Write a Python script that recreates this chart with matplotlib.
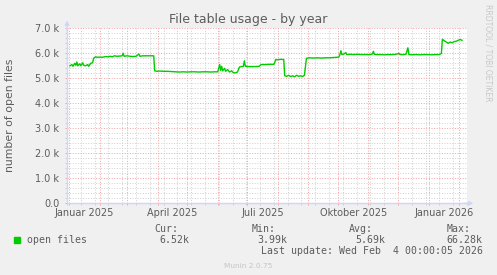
import matplotlib
matplotlib.use('Agg')
import matplotlib.pyplot as plt
import numpy as np
from matplotlib.patches import Rectangle

# day offsets from 2025-01-01 and open files (thousands)
days = [1, 3, 4, 6, 7, 8, 9, 11, 12, 14, 15, 17, 19, 20, 22, 24, 25, 27, 29, 32,
        34, 37, 39, 42, 44, 46, 49, 52, 54, 55, 56, 59, 62, 65, 68, 71, 72, 75, 78, 81,
        84, 86, 87, 89, 92, 96, 100, 104, 108, 112, 116, 120, 124, 128, 132, 136, 140, 144, 148, 151,
        153, 154, 155, 156, 158, 159, 161, 163, 165, 167, 169, 171, 173, 175, 177, 178, 179, 182, 186, 190,
        193, 195, 199, 204, 208, 210, 212, 215, 218, 219, 221, 223, 225, 227, 229, 231, 233, 235, 237, 239,
        241, 244, 248, 252, 256, 260, 264, 268, 272, 274, 275, 276, 277, 279, 281, 282, 285, 289, 293, 297,
        301, 305, 308, 309, 310, 312, 316, 320, 324, 328, 332, 335, 336, 339, 342, 344, 345, 348, 352, 356,
        360, 364, 368, 372, 376, 378, 379, 381, 383, 385, 387, 389, 391, 393, 395, 397, 399]
open_files_k = [5.50, 5.55, 5.48, 5.60, 5.52, 5.65, 5.50, 5.58, 5.50, 5.62, 5.52, 5.50, 5.55, 5.48, 5.60, 5.62, 5.80, 5.86, 5.84, 5.85,
                5.84, 5.87, 5.86, 5.88, 5.86, 5.90, 5.88, 5.89, 5.90, 6.00, 5.88, 5.90, 5.88, 5.87, 5.88, 5.97, 5.88, 5.90, 5.90, 5.90,
                5.90, 5.90, 5.30, 5.28, 5.29, 5.28, 5.28, 5.27, 5.26, 5.25, 5.26, 5.25, 5.26, 5.26, 5.25, 5.26, 5.26, 5.25, 5.26, 5.26,
                5.55, 5.32, 5.48, 5.30, 5.40, 5.28, 5.35, 5.25, 5.30, 5.22, 5.22, 5.25, 5.45, 5.47, 5.48, 5.70, 5.48, 5.47, 5.47, 5.47,
                5.48, 5.55, 5.55, 5.56, 5.56, 5.75, 5.74, 5.76, 5.75, 5.10, 5.08, 5.12, 5.07, 5.10, 5.06, 5.12, 5.08, 5.10, 5.07, 5.12,
                5.80, 5.82, 5.81, 5.82, 5.81, 5.82, 5.82, 5.83, 5.84, 5.85, 5.95, 6.10, 5.95, 5.97, 6.03, 5.95, 5.96, 5.95, 5.96, 5.95,
                5.95, 5.95, 5.97, 6.08, 5.96, 5.95, 5.95, 5.94, 5.95, 5.95, 5.96, 6.00, 5.95, 5.95, 5.96, 6.22, 5.95, 5.94, 5.95, 5.94,
                5.95, 5.95, 5.94, 5.95, 5.95, 6.00, 6.56, 6.50, 6.45, 6.40, 6.45, 6.42, 6.47, 6.48, 6.52, 6.55, 6.52]

label_months = ['2025-01', '2025-04', '2025-07', '2025-10', '2026-01']
label_names = ['Januar 2025', 'April 2025', 'Juli 2025', 'Oktober 2025', 'Januar 2026']
ytick_labels = ['0.0', '1.0 k', '2.0 k', '3.0 k', '4.0 k', '5.0 k', '6.0 k', '7.0 k']

legend_heads = ['Cur:', 'Min:', 'Avg:', 'Max:']
legend_vals = ['6.52k', '3.99k', '5.69k', '66.28k']
last_update = 'Last update: Wed Feb  4 00:00:05 2026'

BACK = '#f0f0f0'
FONT = '#5c5c5c'
AXIS = '#cfd6f8'
GREEN = '#00cc00'
MGRID = '#f2a6a6'
GRID = '#d2d2d2'
W, H = 497, 275

t0 = np.datetime64('2025-01-01')

fig = plt.figure(figsize=(W / 100, H / 100), dpi=100, facecolor=BACK)
ax = fig.add_axes([67 / W, 1 - 203.3 / H, 400 / W, 175 / H])
ax.set_facecolor('white')

ax.plot(days, np.array(open_files_k) * 1000, color=GREEN, lw=1.0, zorder=3)
ax.set_xlim(1, 401)
ax.set_ylim(0, 7000)

month_starts = np.arange('2025-01', '2026-03', dtype='datetime64[M]').astype('datetime64[D]')
ax.set_xticks((month_starts - t0).astype(int))
two_weeks = np.arange(np.datetime64('2024-12-30'), np.datetime64('2026-02-10'), 14)
ax.set_xticks((two_weeks - t0).astype(int), minor=True)
ax.set_xticklabels([])
ax.set_yticks(np.arange(0, 7001, 1000))
ax.set_yticks(np.arange(0, 7001, 200), minor=True)
ax.set_yticklabels(ytick_labels)

ax.grid(which='major', color=MGRID, ls=(0, (1, 1.6)), lw=0.72)
ax.grid(which='minor', color=GRID, ls=(0, (1, 1.6)), lw=0.72)
ax.set_axisbelow(True)
ax.tick_params(which='major', length=1.5, width=0.72, color=MGRID,
               labelsize=7, labelcolor=FONT, pad=4)
ax.tick_params(which='minor', length=1.2, width=0.72, color=GRID)

for s in ('top', 'right'):
    ax.spines[s].set_visible(False)
for s in ('left', 'bottom'):
    ax.spines[s].set_color(AXIS)
    ax.spines[s].set_linewidth(1)

arrow = dict(arrowstyle='-|>', color=AXIS, lw=1, mutation_scale=6, shrinkA=0, shrinkB=0)
ax.annotate('', xy=(0, 1.045), xytext=(0, 0.99), xycoords='axes fraction', arrowprops=arrow)
ax.annotate('', xy=(1.016, 0), xytext=(0.99, 0), xycoords='axes fraction', arrowprops=arrow)

for m, name in zip(label_months, label_names):
    start = np.datetime64(m, 'D')
    end = (np.datetime64(m, 'M') + 1).astype('datetime64[D]')
    mid = (start - t0).astype(int) + (end - start).astype(int) / 2
    ax.text(mid, -12.2 / 175, name, transform=ax.get_xaxis_transform(),
            ha='center', va='baseline', size=7, color=FONT)

fig.text(0.5, 1 - 23.5 / H, 'File table usage - by year', ha='center', va='baseline',
         size=9, color=FONT)
fig.text(10 / W, 1 - 115.5 / H, 'number of open files', rotation=90,
         ha='center', va='center', size=7.8, color=FONT)
fig.text(488 / W, 1 - 53 / H, 'RRDTOOL / TOBI OETIKER', rotation=270,
         ha='center', va='center', size=5.5, color='#c8c8c8')

mono = dict(family='DejaVu Sans Mono', size=7.1, color=FONT, va='baseline')
fig.add_artist(Rectangle((14 / W, 1 - 243 / H), 6 / W, 6 / H,
                         transform=fig.transFigure, color=GREEN))
fig.text(26.7 / W, 1 - 243 / H, 'open files', ha='left', **mono)
head_x = [154, 251.7, 349, 446.7]
val_x = [189.3, 287.3, 385, 482.7]
for hx, hd in zip(head_x, legend_heads):
    fig.text(hx / W, 1 - 231.5 / H, hd, ha='left', **mono)
for vx, v in zip(val_x, legend_vals):
    fig.text(vx / W, 1 - 243 / H, v, ha='right', **mono)
fig.text(482.7 / W, 1 - 254.5 / H, last_update, ha='right', **mono)
fig.text(248 / W, 1 - 267.5 / H, 'Munin 2.0.75', ha='center', va='baseline',
         size=5.3, color='#c4c4c4')

fig.savefig('out.png', dpi=100, facecolor=BACK)
